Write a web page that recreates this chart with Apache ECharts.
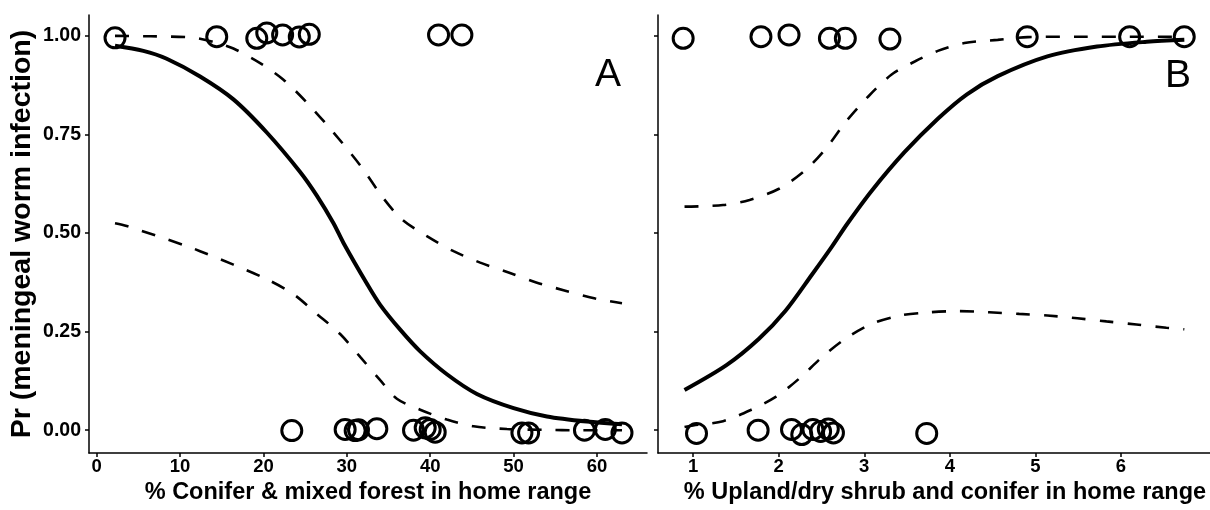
<!DOCTYPE html>
<html>
<head>
<meta charset="utf-8">
<script src="https://cdn.jsdelivr.net/npm/echarts@6/dist/echarts.min.js"></script>
<style>html,body{margin:0;padding:0;background:#fff}#c{width:1210px;height:510px}</style>
</head>
<body>
<div id="c"></div>
<script>
// ---- Panel A: % Conifer & mixed forest ----
const aInfX = [2.2, 14.4, 19.2, 20.4, 22.3, 24.3, 25.5, 41.0, 43.8];
const aInfY = [0.995, 0.998, 0.994, 1.0075, 1.0025, 0.9975, 1.004, 1.0025, 1.0025];
const aUninfX = [23.4, 29.8, 31.0, 31.4, 33.6, 38.0, 39.4, 40.0, 40.6, 51.0, 51.8, 58.5, 61.0, 63.0];
const aUninfY = [-0.001, 0.002, -0.001, 0.001, 0.004, 0.0, 0.006, 0.002, -0.005, -0.007, -0.007, 0.0, 0.002, -0.007];
const aFitX = [2.2, 5.6, 8.4, 12.4, 16.4, 20.4, 24.4, 26.4, 28.4, 29.6, 32.4, 34.0, 36.4, 38.8, 42.0, 45.6, 50.0, 54.0, 58.8, 63.0];
const aFitY = [0.975, 0.962, 0.942, 0.897, 0.839, 0.755, 0.655, 0.595, 0.525, 0.475, 0.372, 0.318, 0.255, 0.200, 0.142, 0.092, 0.056, 0.035, 0.022, 0.015];
const aUpX = [2.2, 6.5, 10.8, 12.4, 14.4, 16.4, 19.6, 22.4, 25.2, 28.4, 31.6, 34.4, 36.6, 39.6, 42.8, 46.0, 49.4, 52.8, 56.2, 59.8, 63.0];
const aUpY = [1.0, 0.999, 0.997, 0.993, 0.982, 0.968, 0.931, 0.889, 0.831, 0.755, 0.672, 0.588, 0.535, 0.492, 0.454, 0.425, 0.400, 0.374, 0.354, 0.334, 0.322];
const aLoX = [2.2, 3.6, 10.8, 12.4, 16.4, 20.4, 23.6, 26.4, 29.2, 31.6, 34.0, 36.0, 38.8, 42.0, 45.2, 49.2, 53.6, 58.0, 63.0];
const aLoY = [0.525, 0.518, 0.467, 0.454, 0.420, 0.383, 0.345, 0.295, 0.244, 0.186, 0.127, 0.080, 0.052, 0.027, 0.010, 0.003, 0.001, 0.0, 0.0];

// ---- Panel B: % Upland/dry shrub and conifer ----
const bInfX = [0.884, 1.793, 2.121, 2.593, 2.779, 3.300, 4.904, 6.101, 6.739];
const bInfY = [0.994, 0.998, 1.0025, 0.994, 0.994, 0.992, 0.998, 0.998, 0.998];
const bUninfX = [1.04, 1.76, 2.15, 2.27, 2.40, 2.49, 2.58, 2.64, 3.73];
const bUninfY = [-0.008, 0.0, 0.002, -0.011, 0.002, -0.003, 0.003, -0.007, -0.008];
const bFitX = [0.9, 1.39, 1.77, 2.08, 2.39, 2.62, 2.80, 3.09, 3.47, 3.86, 4.20, 4.56, 5.14, 5.72, 6.30, 6.74];
const bFitY = [0.102, 0.165, 0.232, 0.303, 0.395, 0.465, 0.523, 0.608, 0.705, 0.790, 0.852, 0.898, 0.948, 0.973, 0.985, 0.990];
const bUpX = [0.9, 1.35, 1.66, 2.01, 2.31, 2.55, 2.78, 3.05, 3.32, 3.59, 3.86, 4.17, 4.56, 4.91, 5.5, 6.1, 6.74];
const bUpY = [0.567, 0.571, 0.584, 0.613, 0.659, 0.714, 0.781, 0.847, 0.902, 0.935, 0.962, 0.982, 0.990, 0.997, 0.998, 0.998, 0.998];
const bLoX = [0.9, 1.0, 1.35, 1.68, 1.97, 2.24, 2.51, 2.78, 3.09, 3.42, 3.76, 4.11, 4.46, 4.81, 5.14, 5.49, 5.83, 6.18, 6.53, 6.74];
const bLoY = [0.008, 0.012, 0.023, 0.052, 0.085, 0.131, 0.186, 0.232, 0.270, 0.291, 0.299, 0.302, 0.299, 0.295, 0.291, 0.284, 0.276, 0.268, 0.260, 0.256];

const xTicksA = [0, 10, 20, 30, 40, 50, 60];
const xTicksB = [1, 2, 3, 4, 5, 6];
const yTicks = [0, 0.25, 0.5, 0.75, 1.0];
const yTitle = 'Pr (meningeal worm infection)';
const xTitleA = '% Conifer & mixed forest in home range';
const xTitleB = '% Upland/dry shrub and conifer in home range';

const FONT = '"Liberation Sans", Arial, sans-serif';
const zip = (xs, ys) => xs.map((x, i) => [x, ys[i]]);

function xAxisCfg(idx, min, max, ticks, title, pad) {
  return {
    type: 'value', gridIndex: idx, min: min, max: max,
    axisLine: { show: true, onZero: false, lineStyle: { color: '#000', width: 1.5 } },
    axisTick: { show: true, length: 4, customValues: ticks, lineStyle: { color: '#000', width: 1.5 } },
    axisLabel: { customValues: ticks, margin: 4, color: '#000', fontFamily: FONT, fontWeight: 'bold', fontSize: 18.5 },
    splitLine: { show: false },
    name: title, nameLocation: 'middle', nameGap: 26,
    nameTextStyle: { color: '#000', fontFamily: FONT, fontWeight: 'bold', fontSize: 23.5, padding: pad }
  };
}
function yAxisCfg(idx, showLabels) {
  const cfg = {
    type: 'value', gridIndex: idx, min: -0.058, max: 1.053,
    axisLine: { show: true, onZero: false, lineStyle: { color: '#000', width: 1.5 } },
    axisTick: { show: true, length: 4, customValues: yTicks, lineStyle: { color: '#000', width: 1.5 } },
    axisLabel: { show: showLabels, customValues: yTicks, margin: 8, color: '#000', fontFamily: FONT, fontWeight: 'bold', fontSize: 19.5,
      formatter: v => Number(v).toFixed(2) },
    splitLine: { show: false }
  };
  if (showLabels) {
    cfg.name = yTitle; cfg.nameLocation = 'middle'; cfg.nameGap = 52;
    cfg.nameTextStyle = { color: '#000', fontFamily: FONT, fontWeight: 'bold', fontSize: 28.5 };
  }
  return cfg;
}
function lineSeries(idx, data, dashed) {
  return {
    type: 'line', xAxisIndex: idx, yAxisIndex: idx, data: data, showSymbol: false,
    smooth: 0.3, silent: true, z: 2,
    lineStyle: dashed ? { color: '#000', width: 2.6, type: [14, 14] } : { color: '#000', width: 4 }
  };
}
function ptSeries(idx, data) {
  return {
    type: 'scatter', xAxisIndex: idx, yAxisIndex: idx, data: data, symbol: 'circle', symbolSize: 20, z: 3,
    itemStyle: { color: 'rgba(0,0,0,0)', borderColor: '#000', borderWidth: 3, opacity: 1 }
  };
}

const chart = echarts.init(document.getElementById('c'), null, { renderer: 'canvas' });
chart.setOption({
  backgroundColor: '#fff',
  animation: false,
  grid: [
    { left: 89, top: 15, width: 558, height: 442 },
    { left: 658, top: 15, width: 556, height: 442 }
  ],
  xAxis: [xAxisCfg(0, -0.92, 66.0, xTicksA, xTitleA, 0), xAxisCfg(1, 0.59, 7.04, xTicksB, xTitleB, [0, 0, 0, 22])],
  yAxis: [yAxisCfg(0, true), yAxisCfg(1, false)],
  graphic: [
    { type: 'text', left: 595, top: 56, style: { text: 'A', font: 'normal 39px ' + FONT, fill: '#000' } },
    { type: 'text', left: 1165, top: 57, style: { text: 'B', font: 'normal 39px ' + FONT, fill: '#000' } }
  ],
  series: [
    lineSeries(0, zip(aFitX, aFitY), false),
    lineSeries(0, zip(aUpX, aUpY), true),
    lineSeries(0, zip(aLoX, aLoY), true),
    ptSeries(0, zip(aInfX, aInfY)),
    ptSeries(0, zip(aUninfX, aUninfY)),
    lineSeries(1, zip(bFitX, bFitY), false),
    lineSeries(1, zip(bUpX, bUpY), true),
    lineSeries(1, zip(bLoX, bLoY), true),
    ptSeries(1, zip(bInfX, bInfY)),
    ptSeries(1, zip(bUninfX, bUninfY))
  ]
});
</script>
</body>
</html>
